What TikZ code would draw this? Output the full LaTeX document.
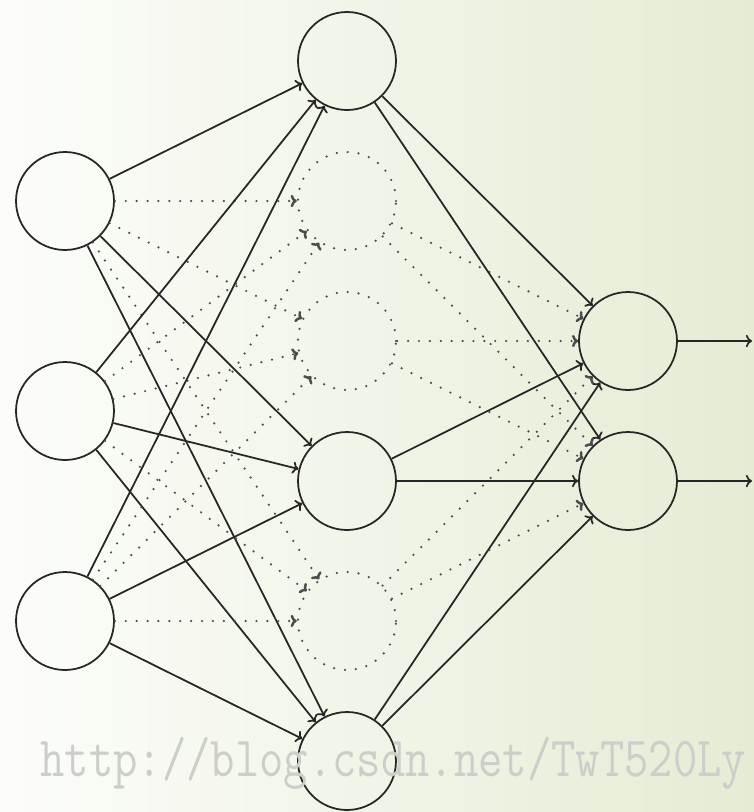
\documentclass[tikz,border=0pt]{standalone}
\usetikzlibrary{arrows.meta}
\definecolor{bgleft}{RGB}{252,253,250}
\definecolor{bgmid}{RGB}{245,247,238}
\definecolor{bgright}{RGB}{229,236,212}
\definecolor{wmgray}{RGB}{204,206,202}
\begin{document}
\begin{tikzpicture}[x=0.02cm,y=-0.02cm,
  neuron/.style={circle,draw=black!85,line width=1pt,minimum size=1.96cm,inner sep=0pt},
  dotsty/.style={line width=1.4pt,line cap=round,dash pattern=on 0pt off 6.2pt},
  ghost/.style={neuron,draw=black!70,dotsty},
  conn/.style={line width=1pt,draw=black!85,-{To[length=3.5pt,width=7pt]}},
  dconn/.style={conn,draw=black!70,dotsty}]
\shade[left color=bgleft,middle color=bgmid,right color=bgright] (0,0) rectangle (754,812);
\useasboundingbox (0,0) rectangle (754,812);
% input layer
\node[neuron] (i1) at (65,201) {};
\node[neuron] (i2) at (65,411) {};
\node[neuron] (i3) at (65,621) {};
% hidden layer
\node[neuron] (h1) at (347,61) {};
\node[ghost]  (h2) at (347,201) {};
\node[ghost]  (h3) at (347,341) {};
\node[neuron] (h4) at (347,481) {};
\node[ghost]  (h5) at (347,621) {};
\node[neuron] (h6) at (347,761) {};
% output layer
\node[neuron] (o1) at (628,341) {};
\node[neuron] (o2) at (628,481) {};
\coordinate (e1) at (752,341);
\coordinate (e2) at (752,481);
% connections
\foreach \i in {1,2,3}{
  \foreach \h in {1,4,6}{\draw[conn] (i\i) -- (h\h);}
  \foreach \h in {2,3,5}{\draw[dconn] (i\i) -- (h\h);}
}
\foreach \o in {1,2}{
  \foreach \h in {1,4,6}{\draw[conn] (h\h) -- (o\o);}
  \foreach \h in {2,3,5}{\draw[dconn] (h\h) -- (o\o);}
}
\draw[conn] (o1) -- (e1);
\draw[conn] (o2) -- (e2);
% watermark
\node[anchor=base west,inner sep=0pt,text=wmgray,font=\ttfamily\fontsize{26.9}{26.9}\selectfont] (wm) at (40,776) {\scalebox{1}[1.2]{http://blog.csdn.net/TwT520Ly}};
\end{tikzpicture}
\end{document}
